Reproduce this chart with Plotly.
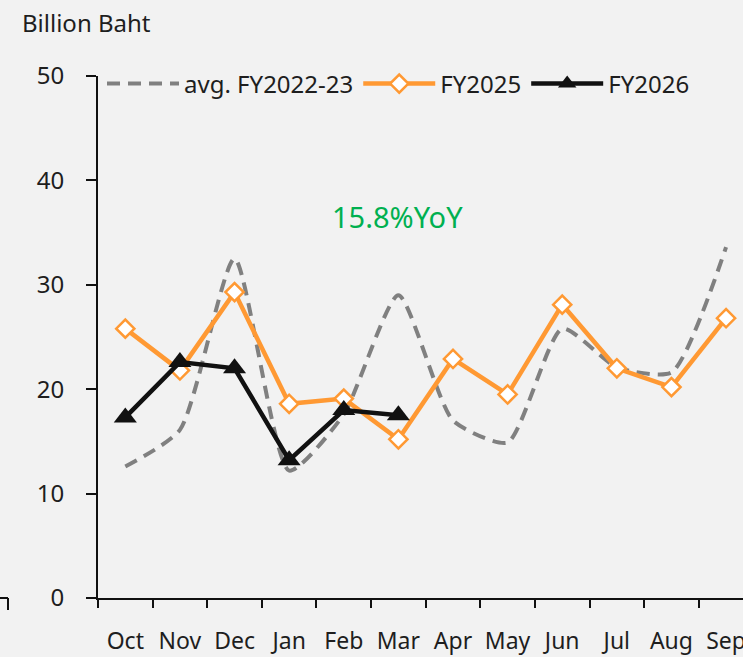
import plotly.graph_objects as go

months = ["Oct", "Nov", "Dec", "Jan", "Feb", "Mar", "Apr", "May", "Jun", "Jul", "Aug", "Sep"]
avg_fy2022_23 = [12.6, 16.1, 32.5, 12.2, 17.6, 29.0, 17.0, 14.9, 25.8, 22.1, 21.6, 33.6]
fy2025 = [25.8, 21.8, 29.3, 18.6, 19.1, 15.2, 22.9, 19.5, 28.1, 22.0, 20.2, 26.8]
fy2026 = [17.3, 22.6, 22.0, 13.2, 18.0, 17.5]

FONT = "Noto Sans"
TXT = "#1e1e1e"

fig = go.Figure()
fig.add_trace(go.Scatter(
    x=months, y=avg_fy2022_23, name="avg. FY2022-23", mode="lines",
    line=dict(color="#808080", width=4, dash="13px,8px", shape="spline", smoothing=0.6),
))
fig.add_trace(go.Scatter(
    x=months, y=fy2025, name="FY2025", mode="lines+markers",
    line=dict(color="#ff9933", width=4.5),
    marker=dict(symbol="diamond", size=14, color="white", line=dict(color="#ff9933", width=2.5)),
))
fig.add_trace(go.Scatter(
    x=months[:len(fy2026)], y=fy2026, name="FY2026", mode="lines+markers",
    line=dict(color="#111111", width=4.5),
    marker=dict(symbol="triangle-up", size=20, color="#111111"),
))

fig.update_layout(
    width=743, height=657,
    paper_bgcolor="#f2f2f2", plot_bgcolor="#f2f2f2",
    margin=dict(l=98, r=0, t=76, b=59, autoexpand=False),
    font=dict(family=FONT, size=24, color=TXT),
    showlegend=True,
    legend=dict(
        orientation="h", x=4/645, y=1.0 - 8/522, xanchor="left", yanchor="middle",
        bgcolor="rgba(0,0,0,0)", font=dict(size=24, color=TXT),
        itemwidth=72, tracegroupgap=0, itemclick=False,
    ),
    xaxis=dict(
        type="category", categoryorder="array", categoryarray=months,
        range=[-0.5, 11.31], showgrid=False, zeroline=False, automargin=False,
        showline=True, linecolor="#111111", linewidth=2, tickangle=0,
        ticks="outside", tickson="boundaries", ticklen=8, tickwidth=2, tickcolor="#111111",
        tickfont=dict(size=23, color=TXT), ticklabelstandoff=21,
    ),
    yaxis=dict(
        range=[0, 50], tickvals=[0, 10, 20, 30, 40, 50], showgrid=False, zeroline=False,
        showline=True, linecolor="#111111", linewidth=2, automargin=False,
        ticks="outside", ticklen=10, tickwidth=2, tickcolor="#111111",
        tickfont=dict(size=24, color=TXT), ticklabelstandoff=17,
    ),
    annotations=[
        dict(text="Billion Baht", xref="paper", yref="paper", x=-98/645, y=1.0 + 54/522,
             xanchor="left", yanchor="middle", showarrow=False, font=dict(size=24, color=TXT), xshift=20),
        dict(text="15.8%YoY", xref="x", yref="y", x=5, y=36.5, xanchor="center", yanchor="middle",
             showarrow=False, font=dict(size=29, color="#00b050"), xshift=-1),
    ],
    shapes=[
        dict(type="line", xref="paper", yref="paper", x0=-98/645, x1=-90/645, y0=0, y1=0,
             line=dict(color="#111111", width=2)),
        dict(type="line", xref="paper", yref="paper", x0=-90/645, x1=-90/645, y0=0, y1=-12/522,
             line=dict(color="#111111", width=2)),
    ],
)

fig.write_html("out.html", config={"displayModeBar": False},
               post_script="document.body.style.margin='0';document.body.style.overflow='hidden';")
